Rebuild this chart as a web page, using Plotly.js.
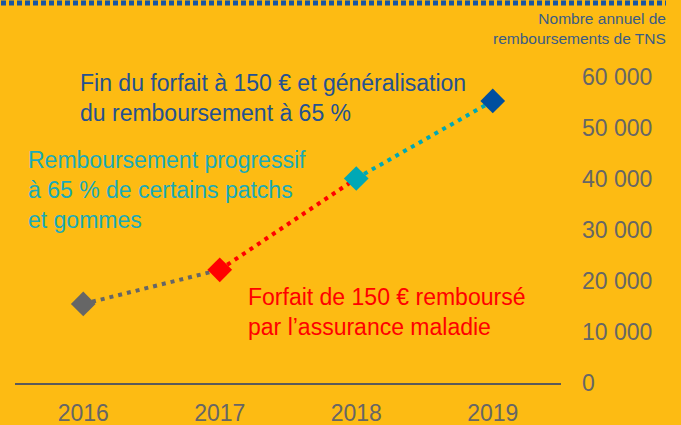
<!DOCTYPE html>
<html>
<head>
<meta charset="utf-8">
<script src="https://cdn.plot.ly/plotly-3.0.1.min.js"></script>
<style>html,body{margin:0;padding:0;background:#FDBB13;}#chart{width:681px;height:425px;}</style>
</head>
<body>
<div id="chart"></div>
<script>
// Data
const years = ['2016', '2017', '2018', '2019'];
const reimbursements = [15500, 22200, 40100, 55300];
const markerColors = ['#666666', '#FF0000', '#00A8B5', '#004F9F'];
const segmentColors = ['#666666', '#FF0000', '#00A8B5'];
const yTickVals = [0, 10000, 20000, 30000, 40000, 50000, 60000];
const yTickText = ['0', '10 000', '20 000', '30 000', '40 000', '50 000', '60 000'];
const axisTitle = 'Nombre annuel de<br>remboursements de TNS';
const noteBlue = 'Fin du forfait à 150 € et généralisation<br>du remboursement à 65 %';
const noteCyan = 'Remboursement progressif<br>à 65 % de certains patchs<br>et gommes';
const noteRed = 'Forfait de 150 € remboursé<br>par l’assurance maladie';

// plot area in pixels
const L = 15, R = 120, T = 77, B = 42, W = 681, H = 425;
const pw = W - L - R, ph = H - T - B;
const px = x => (x - L) / pw;
const py = y => (H - B - y) / ph;

const FONT = 'Liberation Sans, Arial, sans-serif';
const traces = [];
for (let i = 0; i < segmentColors.length; i++) {
  traces.push({
    type: 'scatter', mode: 'lines',
    x: years.slice(i, i + 2), y: reimbursements.slice(i, i + 2),
    line: {color: segmentColors[i], width: 4, dash: '4px,5px'},
    hoverinfo: 'skip', showlegend: false
  });
}
traces.push({
  type: 'scatter', mode: 'markers',
  x: years, y: reimbursements,
  marker: {symbol: 'diamond', size: 19, color: markerColors, line: {width: 0}},
  showlegend: false
});

const layout = {
  width: W, height: H,
  paper_bgcolor: '#FDBB13', plot_bgcolor: '#FDBB13',
  margin: {l: L, r: R, t: T, b: B, pad: 0},
  separators: ', ',
  showlegend: false,
  font: {family: FONT, color: '#666666', size: 23},
  xaxis: {
    type: 'category', range: [-0.5, 3.5],
    showline: true, linecolor: '#5A5A5A', linewidth: 2,
    showgrid: false, zeroline: false, ticks: '',
    tickfont: {family: FONT, size: 23, color: '#666666'},
    ticklabelstandoff: 8, fixedrange: true
  },
  yaxis: {
    side: 'right', range: [0, 60000],
    tickvals: yTickVals, ticktext: yTickText,
    showline: false, showgrid: false, zeroline: false, ticks: '',
    tickfont: {family: FONT, size: 23, color: '#666666'},
    ticklabelstandoff: 20, fixedrange: true
  },
  shapes: [{
    type: 'line', xref: 'paper', yref: 'paper',
    x0: px(1), x1: px(666), y0: py(3), y1: py(3),
    line: {color: '#1A56A0', width: 5, dash: '5px,3px'}
  }],
  annotations: [
    {xref: 'paper', yref: 'paper', x: px(668), y: py(29), xanchor: 'right', yanchor: 'middle',
     text: axisTitle, showarrow: false, align: 'right',
     font: {family: FONT, size: 15.5, color: '#3A5C85'}},
    {xref: 'paper', yref: 'paper', x: px(78), y: py(97.5), xanchor: 'left', yanchor: 'middle',
     text: noteBlue, showarrow: false, align: 'left',
     font: {family: FONT, size: 23, color: '#245192'}},
    {xref: 'paper', yref: 'paper', x: px(26), y: py(190), xanchor: 'left', yanchor: 'middle',
     text: noteCyan, showarrow: false, align: 'left',
     font: {family: FONT, size: 23, color: '#1AAAB8'}},
    {xref: 'paper', yref: 'paper', x: px(246), y: py(312), xanchor: 'left', yanchor: 'middle',
     text: noteRed, showarrow: false, align: 'left',
     font: {family: FONT, size: 23, color: '#FF0000'}}
  ]
};

Plotly.newPlot('chart', traces, layout, {displayModeBar: false, staticPlot: true});
</script>
</body>
</html>
